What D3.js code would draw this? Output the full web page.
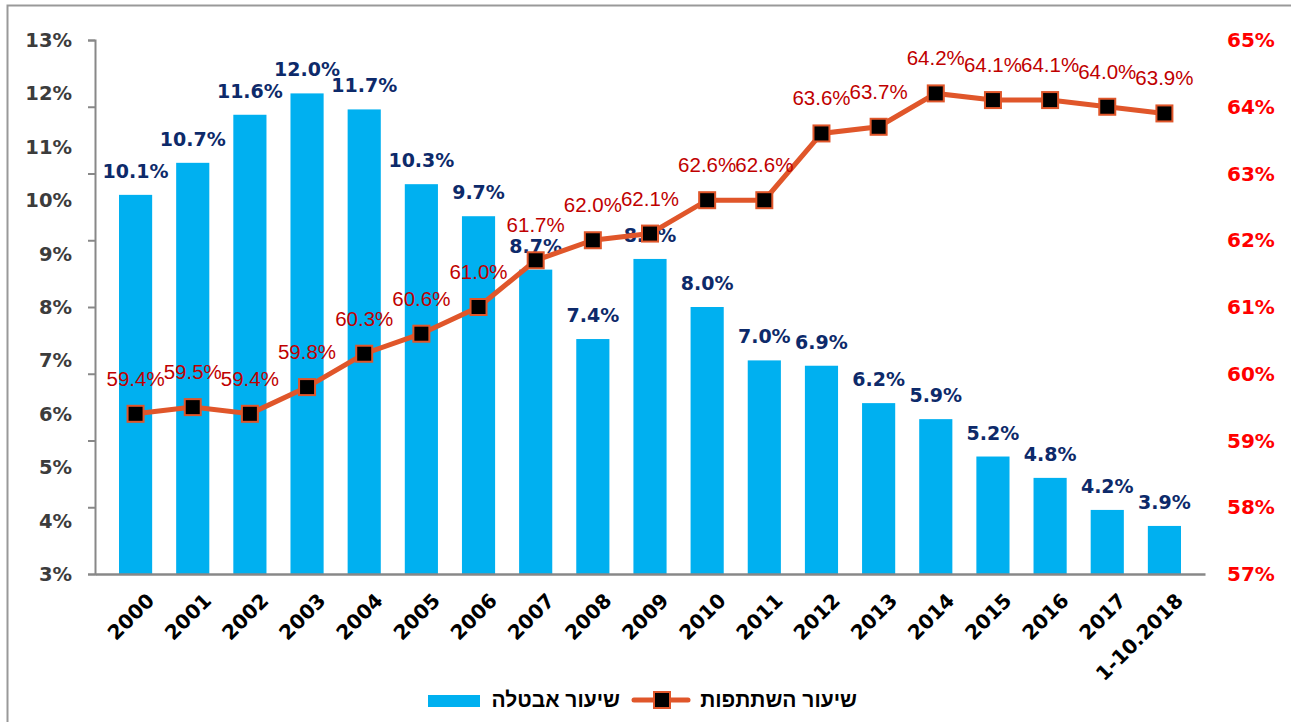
<!DOCTYPE html>
<html>
<head>
<meta charset="utf-8">
<script src="https://cdn.jsdelivr.net/npm/d3@7"></script>
<style>
  body { margin: 0; background: #fff; }
  svg { display: block; }
</style>
</head>
<body>
<div id="chart"></div>
<script>
// data
var years = ["2000", "2001", "2002", "2003", "2004", "2005", "2006", "2007", "2008", "2009",
    "2010", "2011", "2012", "2013", "2014", "2015", "2016", "2017", "1-10.2018"];
var unemployment = [10.1, 10.7, 11.6, 12.0, 11.7, 10.3, 9.7, 8.7, 7.4, 8.9,
    8.0, 7.0, 6.9, 6.2, 5.9, 5.2, 4.8, 4.2, 3.9];
var participation = [59.4, 59.5, 59.4, 59.8, 60.3, 60.6, 61.0, 61.7, 62.0, 62.1,
    62.6, 62.6, 63.6, 63.7, 64.2, 64.1, 64.1, 64.0, 63.9];
var leftTicks = [3, 4, 5, 6, 7, 8, 9, 10, 11, 12, 13];
var rightTicks = [57, 58, 59, 60, 61, 62, 63, 64, 65];
var legendLabels = ["שיעור אבטלה", "שיעור השתתפות"];

var W = 1291, H = 722;
var margin = {top: 40, right: 86, bottom: 148, left: 95};
var width = W - margin.left - margin.right,
    height = H - margin.top - margin.bottom;

var barColor = "#00b0f0",
    lineColor = "#e0562a";

var svg = d3.select("#chart").append("svg")
    .attr("width", W)
    .attr("height", H);

// outer frame
svg.append("rect")
    .attr("x", 7.5).attr("y", 5.5)
    .attr("width", W).attr("height", H)
    .attr("fill", "none")
    .attr("stroke", "#999")
    .attr("stroke-width", 2);

var g = svg.append("g")
    .attr("transform", "translate(" + margin.left + "," + margin.top + ")");

var x = d3.scaleBand().domain(years).range([0, width]).padding(0.42);
var yL = d3.scaleLinear().domain([3, 13]).range([height, 0]);
var yR = d3.scaleLinear().domain([57, 65]).range([height, 0]);

// bars
g.selectAll("rect.bar")
    .data(unemployment)
    .enter().append("rect")
    .attr("class", "bar")
    .attr("x", function (d, i) { return x(years[i]); })
    .attr("y", function (d) { return yL(d); })
    .attr("width", x.bandwidth())
    .attr("height", function (d) { return height - yL(d); })
    .attr("fill", barColor);

// left axis: tick marks follow the secondary axis spacing (as in the source)
var leftAxis = g.append("g")
    .call(d3.axisLeft(yR).tickValues(rightTicks).tickSize(7).tickFormat(""));
leftAxis.select(".domain").attr("stroke", "#888").attr("stroke-width", 2);
leftAxis.selectAll(".tick line").attr("stroke", "#888").attr("stroke-width", 2);

g.selectAll("text.ylab")
    .data(leftTicks)
    .enter().append("text")
    .attr("class", "ylab")
    .attr("x", -23)
    .attr("y", function (d) { return yL(d); })
    .attr("dy", "0.36em")
    .attr("text-anchor", "end")
    .attr("font-family", "DejaVu Sans, Verdana, sans-serif")
    .attr("font-weight", "bold")
    .attr("font-size", 19.5)
    .attr("fill", "#3c3c3c")
    .text(function (d) { return d + "%"; });

// right axis labels
g.selectAll("text.rlab")
    .data(rightTicks)
    .enter().append("text")
    .attr("class", "rlab")
    .attr("x", width + 22)
    .attr("y", function (d) { return yR(d); })
    .attr("dy", "0.36em")
    .attr("text-anchor", "start")
    .attr("font-family", "DejaVu Sans, Verdana, sans-serif")
    .attr("font-weight", "bold")
    .attr("font-size", 20)
    .attr("fill", "#ff0000")
    .text(function (d) { return d + "%"; });

// x axis
var xAxis = g.append("g")
    .attr("transform", "translate(0," + height + ")")
    .call(d3.axisBottom(x).tickSize(0).tickFormat(""));
xAxis.select(".domain").attr("stroke", "#888").attr("stroke-width", 2.5);

g.selectAll("text.xlab")
    .data(years)
    .enter().append("text")
    .attr("class", "xlab")
    .attr("transform", function (d) {
        return "translate(" + (x(d) + x.bandwidth() / 2 + 10) + "," + (height + 18) + ") rotate(-45)";
    })
    .attr("text-anchor", "end")
    .attr("dy", "0.7em")
    .attr("font-family", "DejaVu Sans, Verdana, sans-serif")
    .attr("font-weight", "bold")
    .attr("font-size", 20)
    .attr("fill", "#000")
    .text(function (d) { return d; });

// bar value labels
g.selectAll("text.barlab")
    .data(unemployment)
    .enter().append("text")
    .attr("class", "barlab")
    .attr("x", function (d, i) { return x(years[i]) + x.bandwidth() / 2; })
    .attr("y", function (d) { return yL(d) - 17; })
    .attr("text-anchor", "middle")
    .attr("font-family", "DejaVu Sans, Verdana, sans-serif")
    .attr("font-weight", "bold")
    .attr("font-size", 19)
    .attr("fill", "#0d2a6a")
    .text(function (d) { return d.toFixed(1) + "%"; });

// participation line
var line = d3.line()
    .x(function (d, i) { return x(years[i]) + x.bandwidth() / 2; })
    .y(function (d) { return yR(d); });

g.append("path")
    .datum(participation)
    .attr("d", line)
    .attr("fill", "none")
    .attr("stroke", lineColor)
    .attr("stroke-width", 5);

g.selectAll("rect.marker")
    .data(participation)
    .enter().append("rect")
    .attr("class", "marker")
    .attr("x", function (d, i) { return x(years[i]) + x.bandwidth() / 2 - 8; })
    .attr("y", function (d) { return yR(d) - 8; })
    .attr("width", 16)
    .attr("height", 16)
    .attr("fill", "#000")
    .attr("stroke", lineColor)
    .attr("stroke-width", 2);

g.selectAll("text.linelab")
    .data(participation)
    .enter().append("text")
    .attr("class", "linelab")
    .attr("x", function (d, i) { return x(years[i]) + x.bandwidth() / 2; })
    .attr("y", function (d) { return yR(d) - 28; })
    .attr("text-anchor", "middle")
    .attr("font-family", "Liberation Sans, Arial, sans-serif")
    .attr("font-size", 20.5)
    .attr("fill", "#c00000")
    .text(function (d) { return d.toFixed(1) + "%"; });

// legend
var lg = svg.append("g");
lg.append("rect")
    .attr("x", 428).attr("y", 695)
    .attr("width", 52).attr("height", 12)
    .attr("fill", barColor);
lg.append("text")
    .attr("x", 620).attr("y", 707)
    .attr("text-anchor", "end")
    .attr("font-family", "Liberation Sans, Arial, sans-serif")
    .attr("font-weight", "bold")
    .attr("font-size", 21)
    .attr("fill", "#000")
    .text(legendLabels[0]);
lg.append("line")
    .attr("x1", 634).attr("x2", 688)
    .attr("y1", 700).attr("y2", 700)
    .attr("stroke", lineColor)
    .attr("stroke-width", 5)
    .attr("stroke-linecap", "round");
lg.append("rect")
    .attr("x", 654).attr("y", 692)
    .attr("width", 16).attr("height", 16)
    .attr("fill", "#000")
    .attr("stroke", lineColor)
    .attr("stroke-width", 2);
lg.append("text")
    .attr("x", 857).attr("y", 707)
    .attr("text-anchor", "end")
    .attr("font-family", "Liberation Sans, Arial, sans-serif")
    .attr("font-weight", "bold")
    .attr("font-size", 21)
    .attr("fill", "#000")
    .text(legendLabels[1]);
</script>
</body>
</html>
